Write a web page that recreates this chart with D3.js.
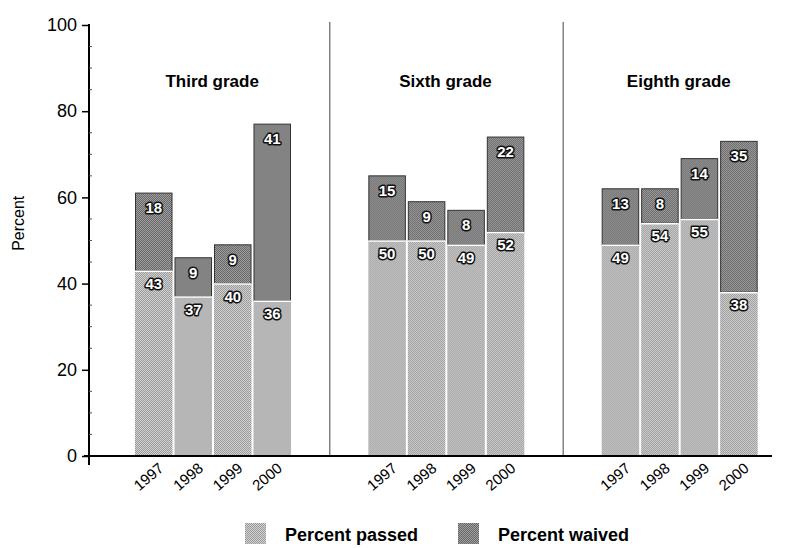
<!DOCTYPE html>
<html>
<head>
<meta charset="utf-8">
<script src="https://cdn.jsdelivr.net/npm/d3@7"></script>
<style>
  body { margin: 0; background: #fff; }
  text { font-family: "Liberation Sans", Arial, sans-serif; }
</style>
</head>
<body>
<script>
// values
const grades = ["Third grade", "Sixth grade", "Eighth grade"]
const years = ["1997", "1998", "1999", "2000"]
const passed = [
  [43, 37, 40, 36],
  [50, 50, 49, 52],
  [49, 54, 55, 38]
]
const waived = [
  [18, 9, 9, 41],
  [15, 9, 8, 22],
  [13, 8, 14, 35]
]
const yTicks = [0, 20, 40, 60, 80, 100]
const legendItems = ["Percent passed", "Percent waived"]

const width = 787, height = 548
const svg = d3.select("body").append("svg").attr("width", width).attr("height", height)

// dithered fills, like the scanned print
const defs = svg.append("defs")
function dither(id, a, b) {
  const p = defs.append("pattern").attr("id", id).attr("width", 2).attr("height", 2)
    .attr("patternUnits", "userSpaceOnUse")
  p.append("rect").attr("width", 2).attr("height", 2).attr("fill", a)
  p.append("rect").attr("width", 1).attr("height", 1).attr("fill", b)
  p.append("rect").attr("x", 1).attr("y", 1).attr("width", 1).attr("height", 1).attr("fill", b)
}
dither("passFill", "#d2d2d2", "#9a9a9a")
dither("waiveFill", "#a0a0a0", "#666")

const y = d3.scaleLinear().domain([0, 100]).range([456, 25])
const xGrade = d3.scaleBand().domain(grades).range([96, 796])
const xYear = d3.scaleBand().domain(years).range([39, 195]).paddingInner(0.05)

// dividers between panels
svg.selectAll(".divider").data(grades.slice(1)).join("line")
  .attr("x1", d => xGrade(d) + 0.5).attr("x2", d => xGrade(d) + 0.5)
  .attr("y1", 22).attr("y2", 456)
  .attr("stroke", "#444").attr("stroke-width", 1)

// y axis
const yAxis = svg.append("g").attr("transform", "translate(89,0)")
yAxis.call(d3.axisLeft(y).tickValues(yTicks).tickSize(7).tickPadding(5))
yAxis.select(".domain").remove()
yAxis.selectAll(".tick line").attr("stroke", "#000").attr("stroke-width", 1.5)
yAxis.selectAll(".tick text").attr("font-size", 18).attr("fill", "#000")
  .style("font-family", "Liberation Sans, Arial, sans-serif")
yAxis.append("line").attr("y1", y(100) - 1).attr("y2", 465).attr("stroke", "#000").attr("stroke-width", 2)
yAxis.selectAll(".minor").data(d3.range(5, 100, 5).filter(v => v % 20 != 0)).join("line")
  .attr("x1", 0).attr("x2", 3).attr("y1", d => y(d)).attr("y2", d => y(d))
  .attr("stroke", "#555").attr("stroke-width", 1)

svg.append("text").attr("transform", "translate(24," + y(54) + ") rotate(-90)")
  .attr("text-anchor", "middle").attr("font-size", 16).text("Percent")

// panels
const panel = svg.selectAll(".panel").data(grades).join("g")
  .attr("transform", d => "translate(" + xGrade(d) + ",0)")

panel.append("text").attr("x", xGrade.bandwidth() / 2 - 0.5).attr("y", 87)
  .attr("text-anchor", "middle").attr("font-size", 17).attr("font-weight", "bold")
  .text(d => d)

const bars = panel.selectAll(".bar")
  .data((d, gi) => years.map((yr, i) => ({ yr, p: passed[gi][i], w: waived[gi][i] })))
  .join("g")
  .attr("transform", d => "translate(" + xYear(d.yr) + ",0)")

const bw = xYear.bandwidth()
bars.append("rect").attr("x", 0).attr("width", bw)
  .attr("y", d => y(d.p)).attr("height", d => y(0) - y(d.p))
  .attr("fill", "url(#passFill)")
bars.append("rect").attr("x", 0.5).attr("width", bw - 1)
  .attr("y", d => y(d.p + d.w)).attr("height", d => y(d.p) - y(d.p + d.w))
  .attr("fill", "url(#waiveFill)").attr("stroke", "#333").attr("stroke-width", 1)
bars.append("line").attr("x1", 0).attr("x2", bw)
  .attr("y1", d => y(d.p) + 0.5).attr("y2", d => y(d.p) + 0.5)
  .attr("stroke", "#fff").attr("stroke-width", 1.5)

function valueLabel(sel) {
  sel.attr("x", bw / 2).attr("text-anchor", "middle").attr("font-size", 15)
    .attr("font-weight", "bold").attr("fill", "#fff")
    .attr("stroke", "#111").attr("stroke-width", 3).attr("paint-order", "stroke")
    .attr("stroke-linejoin", "round")
}
bars.append("text").call(valueLabel).attr("y", d => y(d.p + d.w) + 20).text(d => d.w)
bars.append("text").call(valueLabel).attr("y", d => y(d.p) + 18).text(d => d.p)

// year labels
bars.append("text")
  .attr("transform", "translate(" + (bw / 2 + 11) + ",470) rotate(-40)")
  .attr("text-anchor", "end").attr("font-size", 15).text(d => d.yr)

// baseline
svg.append("line").attr("x1", 84).attr("x2", 772).attr("y1", y(0)).attr("y2", y(0))
  .attr("stroke", "#000").attr("stroke-width", 2)

// legend
const legend = svg.selectAll(".legend").data(legendItems).join("g")
  .attr("transform", (d, i) => "translate(" + (245 + i * 213) + ",523)")
legend.append("rect").attr("width", 21).attr("height", 21)
  .attr("fill", (d, i) => i == 0 ? "url(#passFill)" : "url(#waiveFill)")
legend.append("text").attr("x", 40).attr("y", 18).attr("font-size", 18)
  .attr("font-weight", "bold").text(d => d)
</script>
</body>
</html>
